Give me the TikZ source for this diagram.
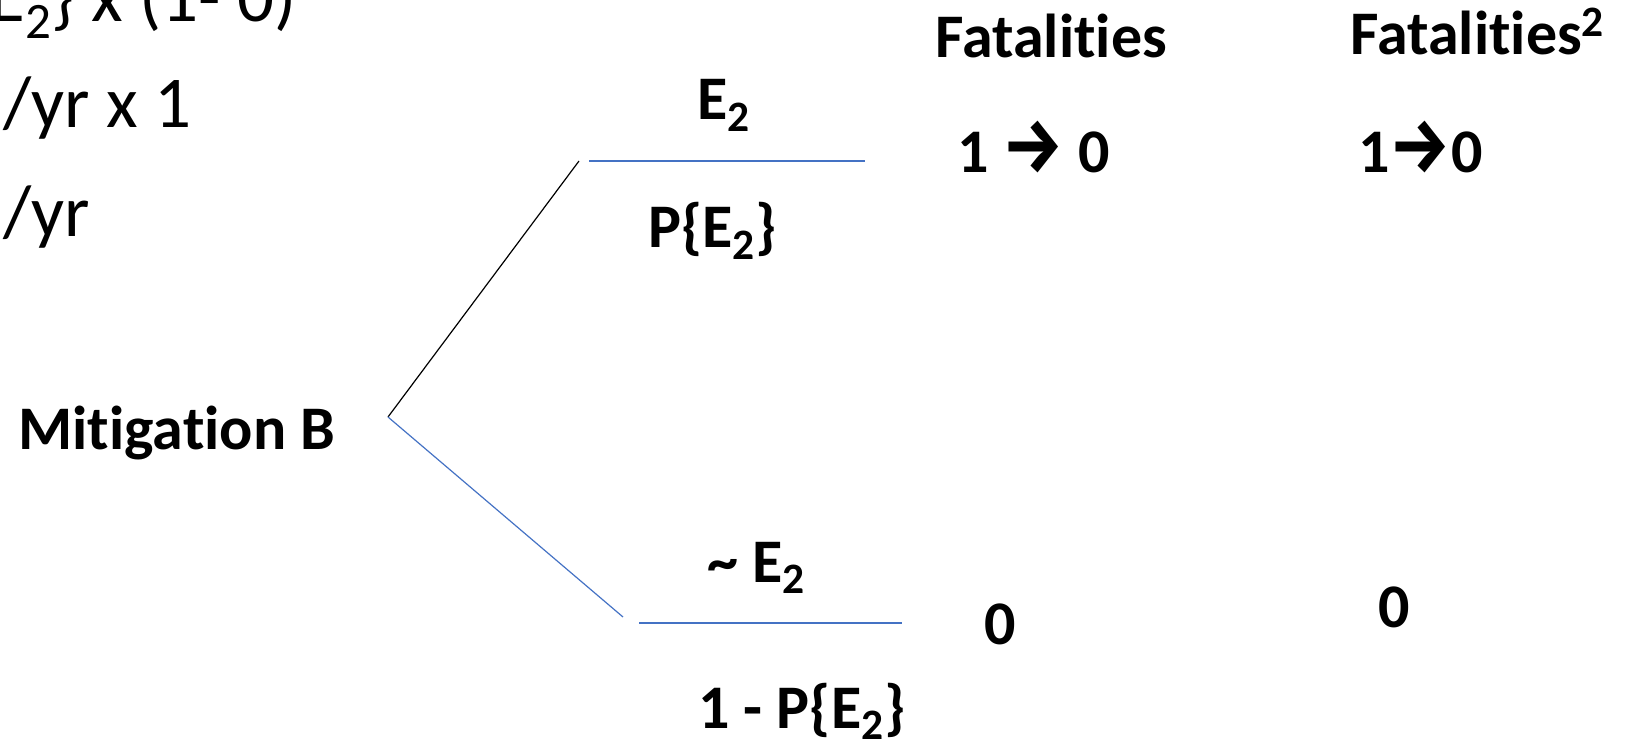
\documentclass[tikz,border=0pt]{standalone}
\usepackage{fontspec}
\usepackage{graphicx}
\setmainfont{Carlito}[Ligatures={NoCommon,NoContextual}]
\newfontfamily\arrowfont{Fira Sans}
\definecolor{blueline}{RGB}{68,114,196}
\newcommand{\thickarr}{{\arrowfont\bfseries\scalebox{1.1}[1.25]{→}}}

\begin{document}
\begin{tikzpicture}[x=0.5pt,y=-0.5pt,
  lbl/.style={font=\fontsize{31}{37}\selectfont\bfseries, inner sep=0pt, anchor=base west},
  note/.style={font=\fontsize{36.5}{44}\selectfont, inner sep=0pt, anchor=base west},
  branch/.style={line width=0.6pt, draw=blueline},
  stem/.style={line width=0.6pt, draw=black}]
\useasboundingbox (0,0) rectangle (1634,743);
% text cut off at the upper left
\node[note, anchor=base east] (eqn) at (297,22) {P\{E\textsubscript{2}\} x (1- 0)};
\node[note] (rate) at (3,128) {/yr x 1};
\node[note] (unit) at (3,237) {/yr};
% the tree
\node[lbl] (mitig) at (18,450) {Mitigation B};
\coordinate (root) at (388,417);
\coordinate (upend) at (579,161);
\coordinate (dnend) at (623,617);
\coordinate (upa) at (589,161);
\coordinate (upb) at (865,161);
\coordinate (dna) at (639,623);
\coordinate (dnb) at (902,623);
\draw[stem] (root) -- (upend);
\draw[branch] (root) -- (dnend);
\draw[branch] (upa) -- (upb);
\draw[branch] (dna) -- (dnb);
% branch labels
\node[lbl] (ev) at (697,120) {E\textsubscript{2}};
\node[lbl] (pev) at (648,248) {P\{E\textsubscript{2}\}};
\node[lbl] (nev) at (707,582) {\textasciitilde{} E\textsubscript{2}};
\node[lbl] (pnev) at (698,728) {1 - P\{E\textsubscript{2}\}};
% outcomes
\node[lbl] (fat) at (935,58) {Fatalities};
\node[lbl] (fatsq) at (1350,55) {Fatalities\textsuperscript{2}};
\node[lbl] (fatup) at (957,173) {1 \thickarr{} 0};
\node[lbl] (squp) at (1358,173) {1\thickarr{}0};
\node[lbl] (fatdn) at (984,644) {0};
\node[lbl] (sqdn) at (1378,627) {0};
\end{tikzpicture}
\end{document}
